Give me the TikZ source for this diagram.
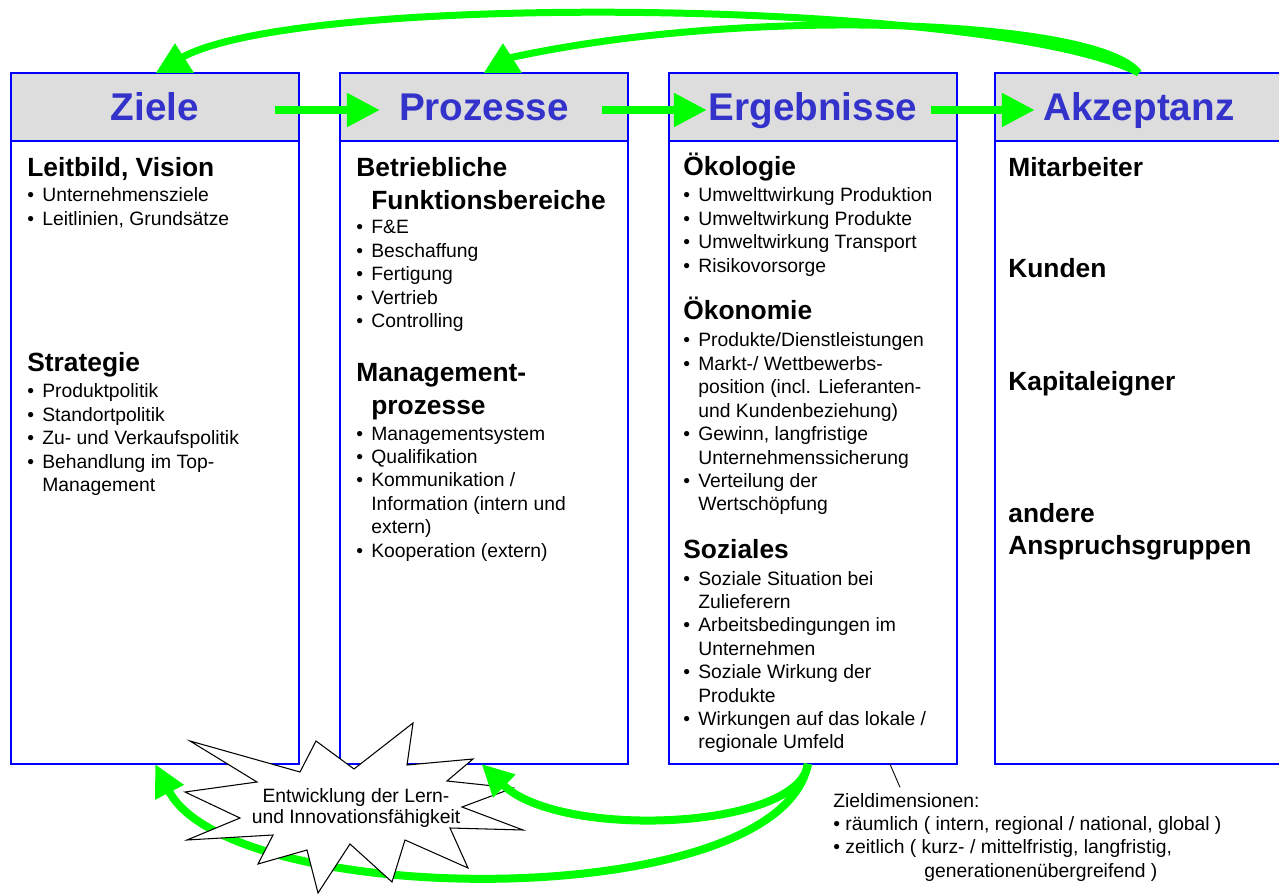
\documentclass[tikz,border=0pt]{standalone}
\usepackage{fontspec}
\setmainfont{Liberation Sans}
\usetikzlibrary{arrows.meta,positioning}
\definecolor{headblue}{RGB}{51,51,204}
\definecolor{frameblue}{RGB}{0,0,255}
\definecolor{headgray}{RGB}{221,221,221}
\definecolor{loopgreen}{RGB}{0,255,0}

% list helpers
\newcommand{\blt}{\makebox[0.3cm][l]{\textbullet}}
\newcommand{\ind}{\hspace*{0.3cm}}
\newcommand{\rows}[1]{\begin{tabular}[t]{@{}l@{}}#1\end{tabular}}

\tikzset{
  colhead/.style={draw=frameblue, fill=headgray, line width=0.9pt, outer sep=0pt,
    minimum width=5.76cm, minimum height=1.36cm, inner sep=0pt,
    text height=15.8pt, text depth=0pt, text=headblue,
    font=\fontsize{22}{26}\selectfont\bfseries},
  colbody/.style={draw=frameblue, line width=0.9pt, outer sep=0pt,
    minimum width=5.76cm, minimum height=12.46cm, inner sep=0pt},
  sechead/.style={anchor=base west, inner sep=0pt, font=\fontsize{15}{18.5}\selectfont\bfseries},
  seclist/.style={anchor=base west, inner sep=0pt, font=\fontsize{11}{13.33}\selectfont},
  fwdarrow/.style={draw=loopgreen, line width=0.16cm, -{Triangle[length=0.66cm,width=0.64cm]}},
  backcurve/.style={draw=loopgreen, line width=0.14cm},
  uptip/.style={draw=loopgreen, line width=0.14cm, -{Triangle[length=0.6cm,width=0.72cm]}},
  backflow/.style={draw=loopgreen, line width=0.16cm, -{Triangle[length=0.64cm,width=0.6cm]}},
  burst/.style={fill=white, draw=black, line width=0.6pt, line join=miter}
}

\begin{document}
\begin{tikzpicture}[x=0.02cm, y=-0.02cm]
\useasboundingbox (0,0) rectangle (1279,895);

% columns
\node[colhead] (ziele) at (155,107) {Ziele};
\node[colhead, right=0.82cm of ziele] (proz) {Prozesse};
\node[colhead, right=0.82cm of proz] (erg) {Ergebnisse};
\node[colhead, right=0.76cm of erg] (akz) {Akzeptanz};
\node[colbody, below=0pt of ziele] (zielebox) {};
\node[colbody, below=0pt of proz] (prozbox) {};
\node[colbody, below=0pt of erg] (ergbox) {};
\node[colbody, below=0pt of akz] (akzbox) {};

% Ziele
\node[sechead] (leitbild) at (27,177) {\rows{Leitbild, Vision}};
\node[seclist] (leitbildlist) at (27,202) {\rows{\blt Unternehmensziele\\ \blt Leitlinien, Grundsätze}};
\node[sechead] (strategie) at (27,372) {\rows{Strategie}};
\node[seclist] (strategielist) at (27,398) {\rows{\blt Produktpolitik\\ \blt Standortpolitik\\
  \blt Zu- und Verkaufspolitik\\ \blt Behandlung im Top-\\ \ind Management}};

% Prozesse
\node[sechead] (funktion) at (356,177) {\rows{Betriebliche\\ \ind Funktionsbereiche}};
\node[seclist] (funktionlist) at (356,234) {\rows{\blt F\&E\\ \blt Beschaffung\\ \blt Fertigung\\
  \blt Vertrieb\\ \blt Controlling}};
\node[sechead] (mgmt) at (356,382) {\rows{Management-\\ \ind prozesse}};
\node[seclist] (mgmtlist) at (356,440) {\rows{\blt Managementsystem\\ \blt Qualifikation\\
  \blt Kommunikation /\\ \ind Information (intern und\\ \ind extern)\\ \blt Kooperation (extern)}};

% Ergebnisse
\node[sechead] (oekol) at (683,176) {\rows{Ökologie}};
\node[seclist] (oekollist) at (683,202) {\rows{\blt Umwelttwirkung Produktion\\ \blt Umweltwirkung Produkte\\
  \blt Umweltwirkung Transport\\ \blt Risikovorsorge}};
\node[sechead] (oekon) at (683,320) {\rows{Ökonomie}};
\node[seclist] (oekonlist) at (683,347) {\rows{\blt Produkte/Dienstleistungen\\ \blt Markt-/ Wettbewerbs-\\
  \ind position (incl. Lieferanten-\\ \ind und Kundenbeziehung)\\ \blt Gewinn, langfristige\\
  \ind Unternehmenssicherung\\ \blt Verteilung der\\ \ind Wertschöpfung}};
\node[sechead] (sozial) at (683,558) {\rows{Soziales}};
\node[seclist] (soziallist) at (683,585) {\rows{\blt Soziale Situation bei\\ \ind Zulieferern\\
  \blt Arbeitsbedingungen im\\ \ind Unternehmen\\ \blt Soziale Wirkung der\\ \ind Produkte\\
  \blt Wirkungen auf das lokale /\\ \ind regionale Umfeld}};

% Akzeptanz
\node[sechead] (mitarb) at (1008,177) {\rows{Mitarbeiter}};
\node[sechead] (kunden) at (1008,278) {\rows{Kunden}};
\node[sechead] (kapital) at (1008,391) {\rows{Kapitaleigner}};
\node[sechead] (andere) at (1008,522) {\rows{andere\\ Anspruchsgruppen}};

% forward arrows
\draw[fwdarrow] ([xshift=-0.48cm,yshift=-0.06cm]ziele.east) -- ([xshift=0.8cm,yshift=-0.06cm]proz.west);
\draw[fwdarrow] ([xshift=-0.52cm,yshift=-0.06cm]proz.east) -- ([xshift=0.76cm,yshift=-0.06cm]erg.west);
\draw[fwdarrow] ([xshift=-0.52cm,yshift=-0.06cm]erg.east) -- ([xshift=0.8cm,yshift=-0.06cm]akz.west);

% feedback over the top
\coordinate (zt) at ([xshift=0.4cm]ziele.north);
\coordinate (pt) at ([xshift=0.38cm]proz.north);
\draw[backcurve] (akz.north) .. controls (1000,0) and (300,-10) .. ([shift={(6,-15)}]zt);
\draw[backcurve] (akz.north) .. controls (1100,20) and (750,5) .. ([shift={(6,-15)}]pt);
\draw[uptip] (zt) -- ++(0,-30);
\draw[uptip] (pt) -- ++(0,-30);

% feedback below
\draw[backflow] ([xshift=-0.1cm]ergbox.south) .. controls (780,915) and (230,910) .. (zielebox.south);
\draw[burst] (190,741) -- (300,772) -- (316,741) -- (354,769) -- (413,723) -- (407,765)
  -- (473,759) -- (447,781) -- (513,788) -- (462,807) -- (523,830) -- (450,828)
  -- (468,868) -- (405,840) -- (392,882) -- (350,844) -- (318,893) -- (307,850)
  -- (258,864) -- (273,835) -- (187,840) -- (240,818) -- (185,792) -- (257,782) -- cycle;
\node[align=center, inner sep=0pt, font=\fontsize{11}{12.5}\selectfont] (lern) at (356,808)
  {Entwicklung der Lern-\\und Innovationsfähigkeit};
\draw[backflow] ([xshift=-0.1cm]ergbox.south) .. controls (800,830) and (560,840) .. ([xshift=-0.05cm]prozbox.south);

% Zieldimensionen
\node[seclist] (zdim) at (833,807) {\rows{Zieldimensionen:\\
  \textbullet\ räumlich ( intern, regional / national, global )\\
  \textbullet\ zeitlich ( kurz- / mittelfristig, langfristig,\\
  \hspace*{1.82cm}generationenübergreifend )}};
\draw[line width=0.5pt] ([xshift=1.54cm]ergbox.south) -- ([xshift=1.34cm,yshift=0.06cm]zdim.north west);
\end{tikzpicture}
\end{document}
